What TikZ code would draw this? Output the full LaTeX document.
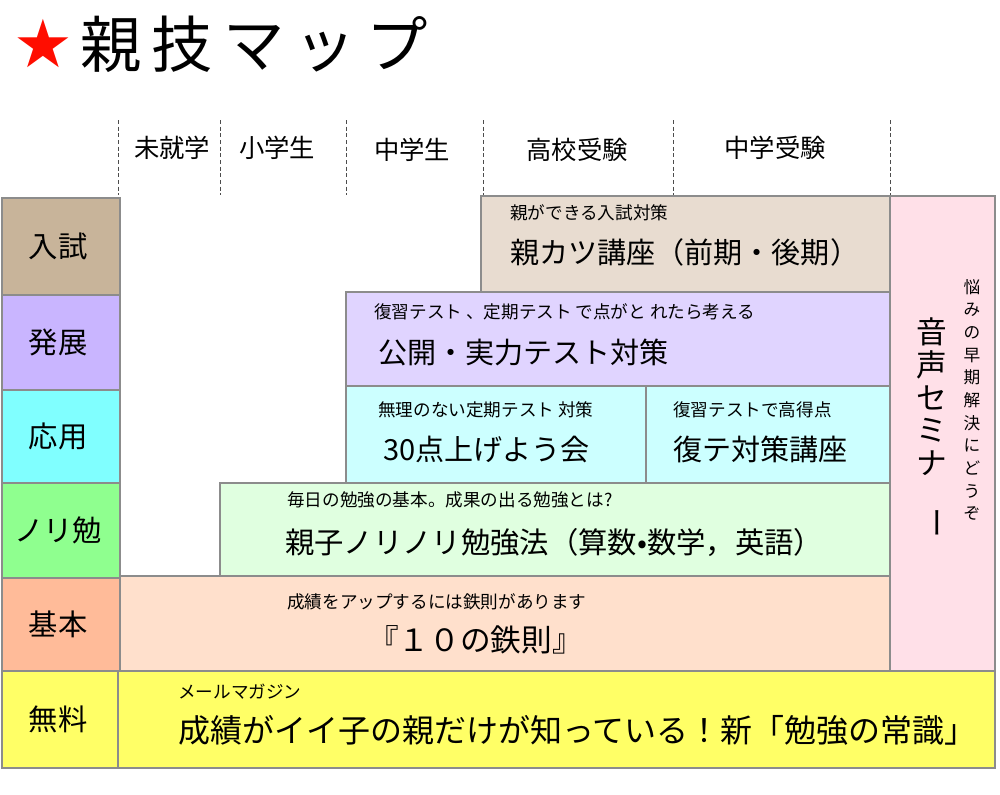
\documentclass[tikz,border=0pt]{standalone}
\usepackage{fontspec}
\setmainfont{Noto Sans CJK JP}
\newfontfamily\djv{DejaVu Sans}
\begin{document}
\begin{tikzpicture}[x=0.75pt,y=-0.75pt,
 cell/.style={draw=black!45,line width=0.8pt},
 sm/.style={anchor=west,font=\fontsize{13.2}{15}\selectfont,inner sep=0},
 bg/.style={anchor=west,font=\fontsize{21.8}{24}\selectfont,inner sep=0},
 lab/.style={font=\fontsize{22}{24}\selectfont},
 hd/.style={font=\fontsize{19}{21}\selectfont},
 dl/.style={densely dashed,black!70,line width=0.6pt}]
\useasboundingbox (0,0) rectangle (1000,794);
\node[text=red!90!orange,font=\djv\fontsize{50}{52}\selectfont] (star) at (43,44) {★};
\node[anchor=west,font=\fontsize{46}{50}\selectfont,inner sep=0] (title) at (80,44) {親\,技\,マ\,ッ\,プ};
% column headers
\foreach \x in {118,220,346,483,673,890} \draw[dl] (\x,120) -- (\x,195);
\node[hd] (h1) at (172,148) {未就学};
\node[hd] (h2) at (277,148) {小学生};
\node[hd] (h3) at (412,150) {中学生};
\node[hd] (h4) at (577,150) {高校受験};
\node[hd] (h5) at (775,148) {中学受験};
% row labels
\foreach \a/\b/\c/\t in {198/295/C8B49A/入試,295/390/C9B5FF/発展,390/483/80FFFF/応用,483/578/8FFF8F/ノリ勉,578/671/FFBB99/基本,671/768/FFFF66/無料}{
 \definecolor{tmp}{HTML}{\c}
 \draw[cell,fill=tmp] (2,\a) rectangle (120,\b);
 \node[lab] at (58,{(\a+\b)/2}) {\t};
}
% boxes
\definecolor{c1}{HTML}{E8DCD0}\definecolor{c2}{HTML}{E0D4FF}\definecolor{c3}{HTML}{CCFFFF}
\definecolor{c4}{HTML}{E0FFE0}\definecolor{c5}{HTML}{FFE0CC}\definecolor{c6}{HTML}{FFFF66}\definecolor{c7}{HTML}{FFE0E8}
\draw[cell,fill=c1] (481,196) rectangle (890,292);
\node[sm] at (510,213) {親ができる入試対策};
\node[bg] at (510,252) {親カツ講座（前期・後期）};
\draw[cell,fill=c2] (346,292) rectangle (890,386);
\node[sm] at (374,312) {復習テスト 、定期テスト で点がと れたら考える};
\node[bg] at (378,352) {公開・実力テスト対策};
\draw[cell,fill=c3] (346,386) rectangle (646,483);
\node[sm] at (378,410) {無理のない定期テスト 対策};
\node[bg] at (383,449) {30点上げよう会};
\draw[cell,fill=c3] (646,386) rectangle (890,483);
\node[sm] at (673,410) {復習テストで高得点};
\node[bg] at (673,449) {復テ対策講座};
\draw[cell,fill=c4] (220,483) rectangle (890,578);
\node[sm] at (287,500) {毎日の勉強の基本。成果の出る勉強とは?};
\node[bg,font=\fontsize{22}{24}\selectfont] at (285,543) {親子ノリノリ勉強法（算数•数学，英語）};
\draw[cell,fill=c5] (120,576) rectangle (890,671);
\node[sm] at (287,602) {成績をアップするには鉄則があります};
\node[bg,font=\fontsize{23}{26}\selectfont] at (368,640) {『１０の鉄則』};
\draw[cell,fill=c6] (118,671) rectangle (995,768);
\node[sm] at (178,692) {メールマガジン};
\node[bg,font=\fontsize{24}{27}\selectfont] at (178,730) {成績がイイ子の親だけが知っている！新「勉強の常識」};
\draw[cell,fill=c7] (890,196) rectangle (995,671);
\node[font=\fontsize{23}{24.5}\selectfont,align=center,inner sep=0] at (932,428) {音\\声\\セ\\ミ\\ナ\\\rotatebox{-90}{ー}};
\node[font=\fontsize{12.5}{17}\selectfont,align=center,inner sep=0] at (972,400) {悩\\み\\の\\早\\期\\解\\決\\に\\ど\\う\\ぞ};
\end{tikzpicture}
\end{document}
